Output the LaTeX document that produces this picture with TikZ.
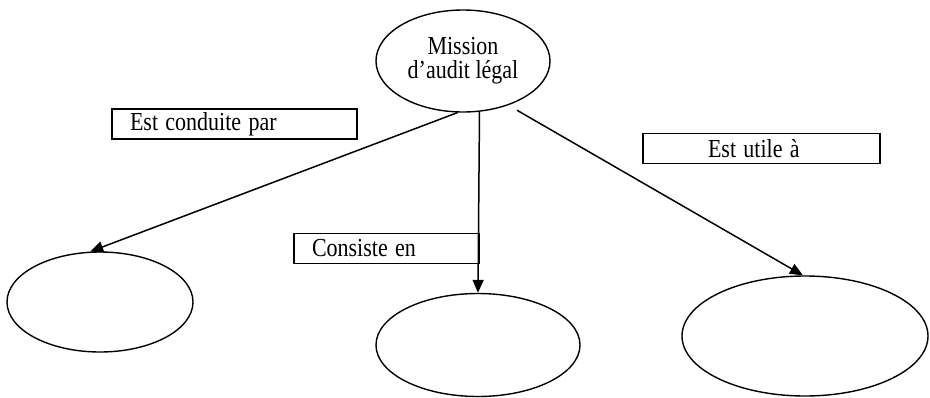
\documentclass[tikz,border=0pt]{standalone}
\usepackage{fontspec}
\usepackage{graphicx}
\setmainfont{Liberation Serif}
\usetikzlibrary{shapes.geometric,arrows.meta,calc}
\newcommand\tallt[1]{\scalebox{1}[1.18]{#1}}
\begin{document}
\begin{tikzpicture}[x=1pt,y=-1pt,
  font=\fontsize{22}{27}\selectfont,
  oval/.style={draw,ellipse,line width=1.4pt,inner sep=0pt},
  labelbox/.style={draw,line width=1.2pt,inner ysep=0pt,minimum height=30pt,align=left},
  link/.style={line width=1.5pt,-{Triangle[length=13pt,width=11pt]}}]
\useasboundingbox (0,0) rectangle (930,397);
\node[oval,minimum width=174pt,minimum height=102pt,align=center] (top) at (463,61) {\tallt{Mission}\\[-3pt]\tallt{d’audit légal}};
\node[oval,minimum width=186pt,minimum height=100pt] (left) at (100,302) {};
\node[oval,minimum width=204pt,minimum height=103pt] (mid) at (478,345) {};
\node[oval,minimum width=246pt,minimum height=120pt] (right) at (805,336) {};
\node[labelbox,inner xsep=18pt,text width=209pt] (b1) at (234.5,124) {\tallt{Est conduite par}};
\node[labelbox,inner xsep=18pt,text width=149pt] (b2) at (386.5,248.5) {\tallt{Consiste en}};
\node[labelbox,inner xsep=65pt,text width=107pt] (b3) at (761.5,148.5) {\tallt{Est utile à}};
\draw[link] (top.264) -- (left.101);
\draw[link] (top.288) -- (mid.north);
\draw[link] ($(top.318)+(6,6)$) -- (right.92);
\end{tikzpicture}
\end{document}
